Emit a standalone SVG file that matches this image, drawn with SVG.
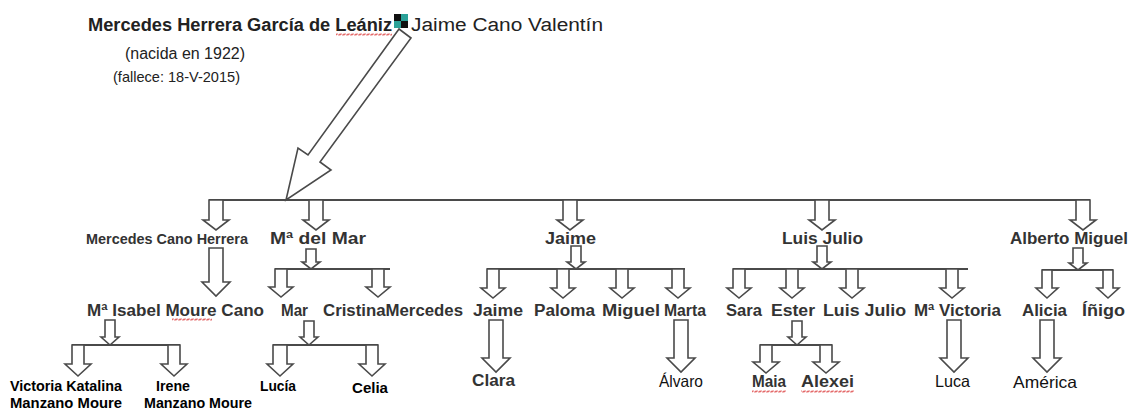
<svg xmlns="http://www.w3.org/2000/svg" width="1131" height="410" viewBox="0 0 1131 410">
<style>
.arr{fill:#fff;stroke:#4a4a4a;stroke-width:1.6;stroke-linejoin:miter}
.ln{fill:none;stroke:#4a4a4a;stroke-width:2}
.b{font-family:"Liberation Sans",Arial,sans-serif;font-weight:bold;font-size:16px;fill:#333}
.bk{font-family:"Liberation Sans",Arial,sans-serif;font-weight:bold;font-size:14px;fill:#000}
.r{font-family:"Liberation Sans",Arial,sans-serif;font-size:16.5px;fill:#111}
.t{font-family:"Liberation Sans",Arial,sans-serif;fill:#222}
</style>
<defs>
<pattern id="sq" width="4" height="3" patternUnits="userSpaceOnUse">
<path d="M0,2.5 L1,0.5 L3,2.5 L4,0.5" stroke="#d44" stroke-width="0.8" fill="none"/>
</pattern>
</defs>
<rect width="1131" height="410" fill="#fff"/>

<g id="parents">
<text class="t" x="88" y="31" font-size="18" font-weight="bold" textLength="304" lengthAdjust="spacingAndGlyphs">Mercedes Herrera García de Leániz</text>
<rect x="336" y="33" width="56" height="3" fill="url(#sq)"/>
<rect x="394" y="14" width="7" height="7" fill="#111"/>
<rect x="401" y="14" width="7" height="7" fill="#2aa198"/>
<rect x="394" y="21" width="7" height="7" fill="#2aa198"/>
<rect x="401" y="21" width="7" height="7" fill="#111"/>
<text class="t" x="411" y="31" font-size="18" fill="#333" textLength="192" lengthAdjust="spacingAndGlyphs">Jaime Cano Valentín</text>
<text class="t" x="125" y="59" font-size="16" fill="#333" textLength="120" lengthAdjust="spacingAndGlyphs">(nacida en 1922)</text>
<text class="t" x="113" y="82" font-size="14.5" fill="#333" textLength="127" lengthAdjust="spacingAndGlyphs">(fallece: 18-V-2015)</text>
</g>

<g id="connectors">
<polygon class="arr" points="399,29 308,155 298,148 286,200 331,170 320,162 411,38"/>
<path class="ln" d="M209,200 H1090"/>
<path class="arr" d="M209,200 H223 V220 H229 L216,230 L203,220 H209 Z"/>
<path class="arr" d="M309,200 H323 V220 H329 L316,230 L303,220 H309 Z"/>
<path class="arr" d="M563,200 H577 V220 H583 L570,230 L557,220 H563 Z"/>
<path class="arr" d="M815,200 H829 V220 H835 L822,230 L809,220 H815 Z"/>
<path class="arr" d="M1076,200 H1090 V220 H1096 L1083,230 L1070,220 H1076 Z"/>

<path class="arr" d="M209,248 H223 V282 H230 L216,296 L202,282 H209 Z"/>

<path class="ln" d="M275,269 H390"/>
<path class="arr" d="M306,249 H316 V262 H320 L311,269 L302,262 H306 Z"/>
<path class="arr" d="M275,269 H287 V287 H293 L281,297 L269,287 H275 Z"/>
<path class="arr" d="M372,269 H384 V287 H390 L378,297 L366,287 H372 Z"/>

<path class="ln" d="M72,345 H180"/>
<path class="arr" d="M105,320 H115 V337 H119 L110,345 L101,337 H105 Z"/>
<path class="arr" d="M72,345 H84 V364 H91 L78,376 L65,364 H72 Z"/>
<path class="arr" d="M168,345 H180 V364 H187 L174,376 L161,364 H168 Z"/>

<path class="ln" d="M273,345 H378"/>
<path class="arr" d="M304,321 H314 V337 H318 L309,345 L300,337 H304 Z"/>
<path class="arr" d="M273,345 H287 V364 H293 L280,376 L267,364 H273 Z"/>
<path class="arr" d="M366,345 H378 V364 H385 L372,376 L359,364 H366 Z"/>

<path class="ln" d="M487,269 H685"/>
<path class="arr" d="M571,246 H581 V262 H585 L576,269 L567,262 H571 Z"/>
<path class="arr" d="M487,269 H499 V288 H505 L493,298 L481,288 H487 Z"/>
<path class="arr" d="M557,269 H569 V288 H575 L563,298 L551,288 H557 Z"/>
<path class="arr" d="M616,269 H628 V288 H634 L622,298 L610,288 H616 Z"/>
<path class="arr" d="M672,269 H684 V288 H690 L678,298 L666,288 H672 Z"/>
<path class="arr" d="M489,320 H503 V358 H510 L496,372 L482,358 H489 Z"/>
<path class="arr" d="M674,320 H688 V358 H695 L681,372 L667,358 H674 Z"/>

<path class="ln" d="M733,269 H968"/>
<path class="arr" d="M817,246 H827 V262 H831 L822,269 L813,262 H817 Z"/>
<path class="arr" d="M733,269 H745 V288 H751 L739,298 L727,288 H733 Z"/>
<path class="arr" d="M786,269 H798 V288 H804 L792,298 L780,288 H786 Z"/>
<path class="arr" d="M846,269 H858 V288 H864 L852,298 L840,288 H846 Z"/>
<path class="arr" d="M946,269 H958 V288 H964 L952,298 L940,288 H946 Z"/>
<path class="arr" d="M947,320 H961 V358 H968 L954,372 L940,358 H947 Z"/>

<path class="ln" d="M760,345 H832"/>
<path class="arr" d="M792,321 H802 V337 H806 L797,345 L788,337 H792 Z"/>
<path class="arr" d="M760,345 H772 V362 H779 L766,373 L753,362 H760 Z"/>
<path class="arr" d="M820,345 H832 V362 H839 L826,373 L813,362 H820 Z"/>

<path class="ln" d="M1042,270 H1113"/>
<path class="arr" d="M1073,248 H1083 V263 H1087 L1078,270 L1069,263 H1073 Z"/>
<path class="arr" d="M1042,270 H1052 V288 H1058 L1047,298 L1036,288 H1042 Z"/>
<path class="arr" d="M1103,270 H1113 V288 H1119 L1108,298 L1097,288 H1103 Z"/>
<path class="arr" d="M1040,320 H1054 V358 H1061 L1047,372 L1033,358 H1040 Z"/>
</g>

<g id="n-mercedes-cano"><text class="b" x="86" y="244" style="font-size:15.5px" textLength="162" lengthAdjust="spacingAndGlyphs">Mercedes Cano Herrera</text></g>
<g id="n-mar-del-mar"><text class="b" x="270" y="244" textLength="96" lengthAdjust="spacingAndGlyphs">Mª del Mar</text></g>
<g id="n-jaime"><text class="b" x="545" y="244" textLength="51" lengthAdjust="spacingAndGlyphs">Jaime</text></g>
<g id="n-luis-julio"><text class="b" x="782" y="244" textLength="81" lengthAdjust="spacingAndGlyphs">Luis Julio</text></g>
<g id="n-alberto-miguel"><text class="b" x="1010" y="244" textLength="118" lengthAdjust="spacingAndGlyphs">Alberto Miguel</text></g>

<g id="n-isabel"><text class="b" x="87" y="316" textLength="177" lengthAdjust="spacingAndGlyphs">Mª Isabel Moure Cano</text><rect x="172" y="318" width="40" height="3" fill="url(#sq)"/></g>
<g id="n-mar"><text class="b" x="281" y="316" textLength="27" lengthAdjust="spacingAndGlyphs">Mar</text></g>
<g id="n-cristina-mercedes"><text class="b" x="323" y="316" textLength="140" lengthAdjust="spacingAndGlyphs">CristinaMercedes</text></g>
<g id="n-jaime2"><text class="b" x="473" y="316" textLength="50" lengthAdjust="spacingAndGlyphs">Jaime</text></g>
<g id="n-paloma"><text class="b" x="534" y="316" textLength="61" lengthAdjust="spacingAndGlyphs">Paloma</text></g>
<g id="n-miguel"><text class="b" x="602" y="316" textLength="58" lengthAdjust="spacingAndGlyphs">Miguel</text></g>
<g id="n-marta"><text class="b" x="664" y="316" textLength="42" lengthAdjust="spacingAndGlyphs">Marta</text></g>
<g id="n-sara"><text class="b" x="726" y="316" textLength="36" lengthAdjust="spacingAndGlyphs">Sara</text></g>
<g id="n-ester"><text class="b" x="771" y="316" textLength="44" lengthAdjust="spacingAndGlyphs">Ester</text></g>
<g id="n-luis-julio2"><text class="b" x="823" y="316" textLength="83" lengthAdjust="spacingAndGlyphs">Luis Julio</text></g>
<g id="n-victoria"><text class="b" x="914" y="316" textLength="87" lengthAdjust="spacingAndGlyphs">Mª Victoria</text></g>
<g id="n-alicia"><text class="b" x="1022" y="316" textLength="45" lengthAdjust="spacingAndGlyphs">Alicia</text></g>
<g id="n-inigo"><text class="b" x="1082" y="316" textLength="43" lengthAdjust="spacingAndGlyphs">Íñigo</text></g>

<g id="n-victoria-katalina"><text class="bk" x="10" y="391" textLength="112" lengthAdjust="spacingAndGlyphs">Victoria Katalina</text><text class="bk" x="10" y="408" textLength="112" lengthAdjust="spacingAndGlyphs">Manzano Moure</text></g>
<g id="n-irene"><text class="bk" x="156" y="391" textLength="34" lengthAdjust="spacingAndGlyphs">Irene</text><text class="bk" x="144" y="408" textLength="108" lengthAdjust="spacingAndGlyphs">Manzano Moure</text></g>
<g id="n-lucia"><text class="bk" x="260" y="391" textLength="36" lengthAdjust="spacingAndGlyphs">Lucía</text></g>
<g id="n-celia"><text class="bk" x="352" y="393" textLength="36" lengthAdjust="spacingAndGlyphs">Celia</text></g>
<g id="n-clara"><text class="b" x="472" y="386" textLength="43" lengthAdjust="spacingAndGlyphs">Clara</text></g>
<g id="n-alvaro"><text class="r" x="659" y="387" textLength="44" lengthAdjust="spacingAndGlyphs">Álvaro</text></g>
<g id="n-maia"><text class="b" x="752" y="387" textLength="34" lengthAdjust="spacingAndGlyphs">Maia</text><rect x="752" y="390" width="34" height="3" fill="url(#sq)"/></g>
<g id="n-alexei"><text class="b" x="801" y="387" textLength="53" lengthAdjust="spacingAndGlyphs">Alexei</text><rect x="801" y="390" width="53" height="3" fill="url(#sq)"/></g>
<g id="n-luca"><text class="r" x="935" y="387" textLength="35" lengthAdjust="spacingAndGlyphs">Luca</text></g>
<g id="n-america"><text class="r" x="1013" y="388" textLength="64" lengthAdjust="spacingAndGlyphs">América</text></g>
</svg>
